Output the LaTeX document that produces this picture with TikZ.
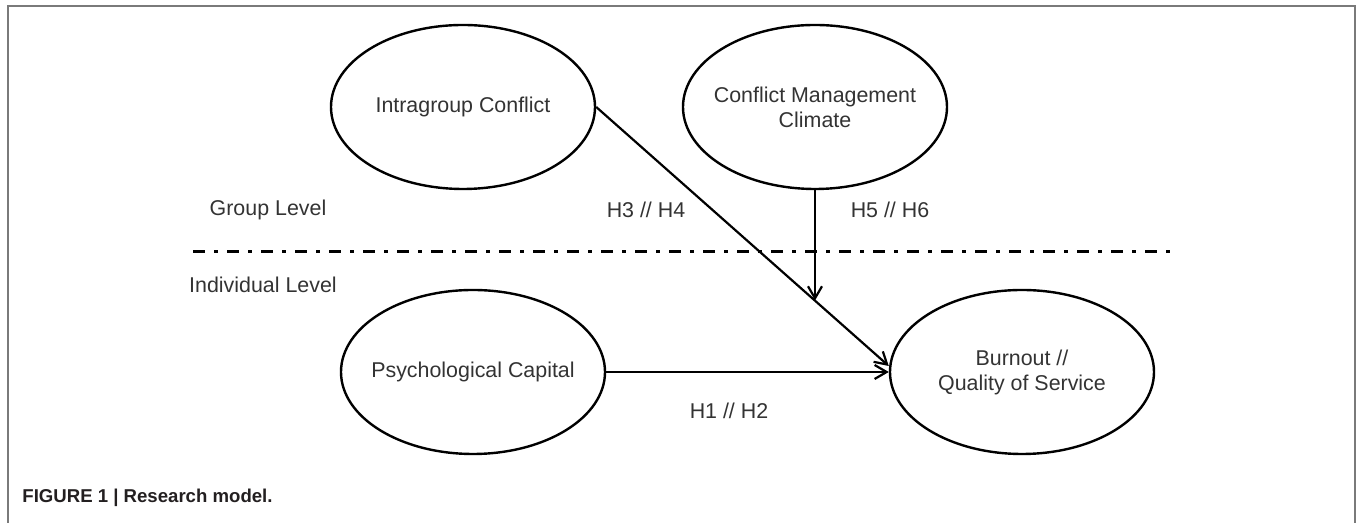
\documentclass[tikz,border=0pt]{standalone}
\usepackage{fontspec}
\setmainfont{Liberation Sans}
\usetikzlibrary{shapes.geometric,arrows.meta}
\definecolor{txtgray}{HTML}{333333}
\definecolor{framegray}{HTML}{7A7A7A}
\definecolor{capgray}{HTML}{231F20}
\tikzset{
  factor/.style={draw, ellipse, line width=1.2pt, minimum width=132pt,
    minimum height=82pt, inner sep=0pt},
  lbl/.style={text=txtgray, font=\fontsize{10.7}{12.5}\selectfont,
    align=center, inner sep=0pt},
  link/.style={line width=1.1pt, -{Straight Barb[length=6pt,width=7pt]}},
  levelline/.style={line width=1.5pt,
    dash pattern=on 6pt off 4.5pt on 2pt off 4.5pt}
}
\begin{document}
\begin{tikzpicture}[x=0.5pt,y=0.5pt]
\useasboundingbox (0,0) rectangle (1357,523);
\draw[framegray, line width=1pt] (8,0) -- (8,517) -- (1355,517) -- (1355,0);
\node[factor, label={[lbl]center:Intragroup Conflict}] (Conflict) at (463,416) {};
\node[factor, label={[lbl]center:Conflict Management\\Climate}] (Climate) at (815,416) {};
\node[factor, label={[lbl]center:Psychological Capital}] (Capital) at (473,151) {};
\node[factor, label={[lbl]center:Burnout //\\Quality of Service}] (Outcome) at (1022,151) {};
\node[lbl] (GroupLevel) at (268,313) {Group Level};
\node[lbl] (IndivLevel) at (263,238) {Individual Level};
\coordinate (SplitWest) at (193,271);
\coordinate (SplitEast) at (1175,271);
\draw[levelline] (SplitWest) -- (SplitEast);
\draw[link] (Conflict.east) -- coordinate[pos=0.747] (Moderate) ([yshift=3pt]Outcome.west);
\draw[link] (Climate.south) -- (Climate.south |- Moderate);
\draw[link] (Capital.east) -- (Outcome.west);
\node[lbl] (HypA) at (729,112) {H1 // H2};
\node[lbl] (HypB) at (646,313) {H3 // H4};
\node[lbl] (HypC) at (890,313) {H5 // H6};
\node[anchor=west, inner sep=0pt, text=capgray,
  font=\bfseries\fontsize{9.3}{11}\selectfont] (Caption) at (22,25)
  {FIGURE 1 | Research model.};
\end{tikzpicture}
\end{document}
